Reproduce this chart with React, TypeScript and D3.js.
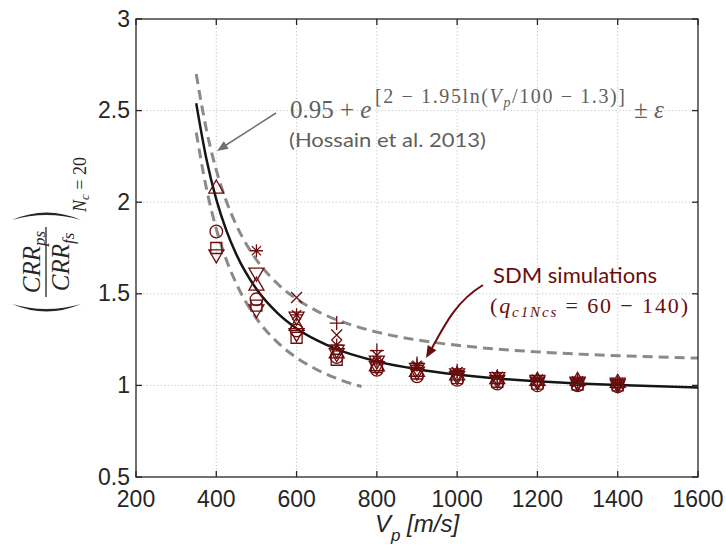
import React from 'react';
import * as d3 from 'd3';

const W = 726;
const H = 548;

// axis ticks
const xTicks = [200, 400, 600, 800, 1000, 1200, 1400, 1600];
const xTickLabels = ['200', '400', '600', '800', '1000', '1200', '1400', '1600'];
const yTicks = [0.5, 1, 1.5, 2, 2.5, 3];
const yTickLabels = ['0.5', '1', '1.5', '2', '2.5', '3'];

// Hossain et al. (2013) relationship
const fitVp = [350, 375, 400, 425, 450, 500, 550, 600, 650, 700, 750, 800, 900, 1000, 1100, 1200, 1300, 1400, 1500, 1600];
const fitMid = [2.54, 2.24, 2.015, 1.846, 1.715, 1.526, 1.40, 1.311, 1.247, 1.198, 1.161, 1.131, 1.088, 1.059, 1.038, 1.023, 1.011, 1.002, 0.995, 0.989];
const fitUpper = [2.70, 2.40, 2.175, 2.006, 1.875, 1.686, 1.56, 1.471, 1.407, 1.358, 1.321, 1.291, 1.248, 1.219, 1.198, 1.183, 1.171, 1.162, 1.155, 1.149];
const lowVp = [350, 375, 400, 425, 450, 500, 550, 600, 650, 700, 750, 762];
const fitLower = [2.38, 2.08, 1.855, 1.686, 1.555, 1.366, 1.24, 1.151, 1.087, 1.038, 1.001, 0.994];

// SDM simulations
const simVp = [400, 500, 600, 700, 800, 900, 1000, 1100, 1200, 1300, 1400];
const simTriUp = [2.08, 1.55, 1.33, 1.18, 1.11, 1.08, 1.06, 1.04, 1.03, 1.03, 1.02];
const simCircle = [1.84, 1.47, 1.30, 1.155, 1.085, 1.05, 1.03, 1.01, 1.0, 1.0, 0.995];
const simSquare = [1.75, 1.435, 1.26, 1.14, 1.10, 1.065, 1.04, 1.02, 1.01, 1.005, 1.0];
const simTriDown = [1.71, 1.41, 1.28, 1.17, 1.10, 1.07, 1.045, 1.025, 1.015, 1.01, 1.0];
const simTriDown2 = [null, 1.61, 1.37, 1.19, 1.13, 1.09, 1.06, 1.04, 1.025, 1.015, 1.01];
const simStar = [null, 1.735, 1.385, 1.22, 1.135, 1.11, 1.07, 1.045, 1.03, 1.02, 1.01];
const simCross = [null, null, 1.48, 1.275, 1.165, 1.10, 1.07, 1.045, 1.03, 1.02, 1.01];
const simPlus = [null, null, null, 1.34, 1.19, 1.12, 1.08, 1.05, 1.035, 1.025, 1.015];

const series: { shape: string; values: (number | null)[] }[] = [
  { shape: 'triUp', values: simTriUp },
  { shape: 'circle', values: simCircle },
  { shape: 'square', values: simSquare },
  { shape: 'triDown', values: simTriDown },
  { shape: 'triDown', values: simTriDown2 },
  { shape: 'star', values: simStar },
  { shape: 'cross', values: simCross },
  { shape: 'plus', values: simPlus },
];

const RED = '#6b0d0d';
const GRAY = '#8a8a8a';
const TXT_GRAY = '#5f5f5f';
const AX = '#262626';

const x = d3.scaleLinear().domain([200, 1600]).range([136, 698]);
const y = d3.scaleLinear().domain([0.5, 3]).range([477, 19]);

function markerPath(shape: string): string {
  const p = d3.path();
  switch (shape) {
    case 'circle':
      p.arc(0, 0, 6.3, 0, Math.PI * 2);
      break;
    case 'square':
      p.rect(-5.5, -5.5, 11, 11);
      break;
    case 'triUp':
      p.moveTo(0, -7.5); p.lineTo(7.5, 5.5); p.lineTo(-7.5, 5.5); p.closePath();
      break;
    case 'triDown':
      p.moveTo(0, 7.5); p.lineTo(7.5, -5.5); p.lineTo(-7.5, -5.5); p.closePath();
      break;
    case 'star':
      p.moveTo(-6.5, 0); p.lineTo(6.5, 0);
      p.moveTo(0, -6.5); p.lineTo(0, 6.5);
      p.moveTo(-4.6, -4.6); p.lineTo(4.6, 4.6);
      p.moveTo(-4.6, 4.6); p.lineTo(4.6, -4.6);
      break;
    case 'cross':
      p.moveTo(-5.5, -5.5); p.lineTo(5.5, 5.5);
      p.moveTo(-5.5, 5.5); p.lineTo(5.5, -5.5);
      break;
    case 'plus':
      p.moveTo(-7, 0); p.lineTo(7, 0);
      p.moveTo(0, -7); p.lineTo(0, 7);
      break;
  }
  return p.toString();
}

function arrowHead(x1: number, y1: number, x2: number, y2: number, len: number, half: number) {
  const dx = x2 - x1, dy = y2 - y1;
  const L = Math.hypot(dx, dy);
  const ux = dx / L, uy = dy / L;
  const bx = x2 - ux * len, by = y2 - uy * len;
  return `M${x2},${y2}L${bx - uy * half},${by + ux * half}L${bx + uy * half},${by - ux * half}Z`;
}

export default function App() {
  const line = d3.line<number>().curve(d3.curveMonotoneX);
  const midPath = line(fitVp.map((v, i) => [x(v), y(fitMid[i])] as any) as any);
  const upPath = line(fitVp.map((v, i) => [x(v), y(fitUpper[i])] as any) as any);
  const lowPath = line(lowVp.map((v, i) => [x(v), y(fitLower[i])] as any) as any);

  const x0 = x(200), x1 = x(1600), y0 = y(0.5), y1 = y(3);
  const serif = "'Liberation Serif', 'DejaVu Serif', serif";
  const sans = "'Liberation Sans', Arial, sans-serif";
  const calibri = "Lato, 'Open Sans', sans-serif";

  // y label group center
  const lcx = 46, lcy = 262;

  return (
    <svg width={W} height={H} viewBox={`0 0 ${W} ${H}`} style={{ position: 'absolute', left: 0, top: 0, background: '#fff' }}>
      <rect x={0} y={0} width={W} height={H} fill="#fff" />
      {/* grid */}
      <g stroke="#cfcfcf" strokeWidth={1} strokeDasharray="1.5,2">
        {xTicks.slice(1, -1).map((t) => (
          <line key={'gx' + t} x1={x(t)} x2={x(t)} y1={y0} y2={y1} />
        ))}
        {yTicks.slice(1, -1).map((t) => (
          <line key={'gy' + t} x1={x0} x2={x1} y1={y(t)} y2={y(t)} />
        ))}
      </g>

      {/* dashed bounds */}
      <path d={upPath || ''} fill="none" stroke={GRAY} strokeWidth={3} strokeDasharray="10,6" />
      <path d={lowPath || ''} fill="none" stroke={GRAY} strokeWidth={3} strokeDasharray="10,6" />
      {/* mean curve */}
      <path d={midPath || ''} fill="none" stroke="#151515" strokeWidth={2.5} />

      {/* markers */}
      {series.map((s, si) => (
        <g key={'s' + si} stroke={RED} strokeWidth={1.3} fill="none">
          {s.values.map((v, i) =>
            v == null ? null : (
              <path key={i} d={markerPath(s.shape)} transform={`translate(${x(simVp[i])},${y(v)})`} />
            )
          )}
        </g>
      ))}

      {/* axes box */}
      <rect x={x0} y={y1} width={x1 - x0} height={y0 - y1} fill="none" stroke={AX} strokeWidth={1.3} />
      <g stroke={AX} strokeWidth={1.3}>
        {xTicks.map((t) => (
          <g key={'tx' + t}>
            <line x1={x(t)} x2={x(t)} y1={y0} y2={y0 - 6} />
            <line x1={x(t)} x2={x(t)} y1={y1} y2={y1 + 6} />
          </g>
        ))}
        {yTicks.map((t) => (
          <g key={'ty' + t}>
            <line x1={x0} x2={x0 + 6} y1={y(t)} y2={y(t)} />
            <line x1={x1} x2={x1 - 6} y1={y(t)} y2={y(t)} />
          </g>
        ))}
      </g>

      {/* tick labels */}
      <g fontFamily={sans} fontSize={23} fill={AX}>
        {xTicks.map((t, i) => (
          <text key={'lx' + t} x={x(t)} y={y0 + 30} textAnchor="middle">{xTickLabels[i]}</text>
        ))}
        {yTicks.map((t, i) => (
          <text key={'ly' + t} x={130} y={y(t) + 7.5} textAnchor="end">{yTickLabels[i]}</text>
        ))}
      </g>

      {/* x label */}
      <text x={417} y={532} fontFamily={sans} fontSize={24} fontStyle="italic" fill={AX} textAnchor="middle">
        V<tspan fontSize={17} dy={9}>p</tspan><tspan dy={-9}> [m/s]</tspan>
      </text>

      {/* y label */}
      <g transform={`translate(${lcx},${lcy}) rotate(-90)`} fill={AX}>
        <path d="M-42,-34 Q-57,0.5 -42,35 Q-52,0.5 -42,-34 Z" />
        <path d="M42,-34 Q57,0.5 42,35 Q52,0.5 42,-34 Z" />
        <line x1={-35} x2={35} y1={0} y2={0} stroke={AX} strokeWidth={1.3} />
        <text x={0} y={-6} textAnchor="middle" fontFamily={serif} fontStyle="italic" fontSize={25}>
          CRR<tspan fontSize={17} dy={5}>ps</tspan>
        </text>
        <text x={0} y={23} textAnchor="middle" fontFamily={serif} fontStyle="italic" fontSize={25}>
          CRR<tspan fontSize={17} dy={5}>fs</tspan>
        </text>
        <text x={50} y={40} fontFamily={serif} fontSize={18}>
          <tspan fontStyle="italic">N</tspan><tspan fontStyle="italic" fontSize={13} dy={3}>c</tspan><tspan dy={-3}> = 20</tspan>
        </text>
      </g>

      {/* Hossain annotation */}
      <text x={290} y={118} fontFamily={serif} fontSize={25} fill={TXT_GRAY}>
        0.95 + <tspan fontStyle="italic">e</tspan>
      </text>
      <text x={375} y={103} fontFamily={serif} fontSize={20} fill={TXT_GRAY} textLength={250} lengthAdjust="spacing">
        [2 − 1.95ln(<tspan fontStyle="italic">V</tspan><tspan fontStyle="italic" fontSize={14} dy={4}>p</tspan><tspan dy={-4}>/100 − 1.3)]</tspan>
      </text>
      <text x={634} y={118} fontFamily={serif} fontSize={25} fill={TXT_GRAY}>
        ± <tspan fontStyle="italic">ε</tspan>
      </text>
      <text x={289} y={147} fontFamily={calibri} fontSize={20} fill={TXT_GRAY} textLength={197} lengthAdjust="spacingAndGlyphs">
        (Hossain et al. 2013)
      </text>
      <line x1={276} y1={113} x2={223} y2={147} stroke="#707070" strokeWidth={1.5} />
      <path d={arrowHead(276, 113, 217, 151, 11, 4.5)} fill="#707070" />

      {/* SDM annotation */}
      <text x={493} y={283} fontFamily={calibri} fontSize={22} fill={RED} textLength={164} lengthAdjust="spacingAndGlyphs">
        SDM simulations
      </text>
      <text x={490} y={313} fontFamily={serif} fontSize={22} fill={RED} textLength={198} lengthAdjust="spacing">
        (<tspan fontStyle="italic">q</tspan><tspan fontStyle="italic" fontSize={15} dy={4}>c1Ncs</tspan><tspan dy={-4}> = 60 − 140)</tspan>
      </text>
      <path d="M483,285 C458,300 446,322 432,348" fill="none" stroke={RED} strokeWidth={2} />
      <path d={arrowHead(440, 334, 426, 358, 12, 5)} fill={RED} />
    </svg>
  );
}
